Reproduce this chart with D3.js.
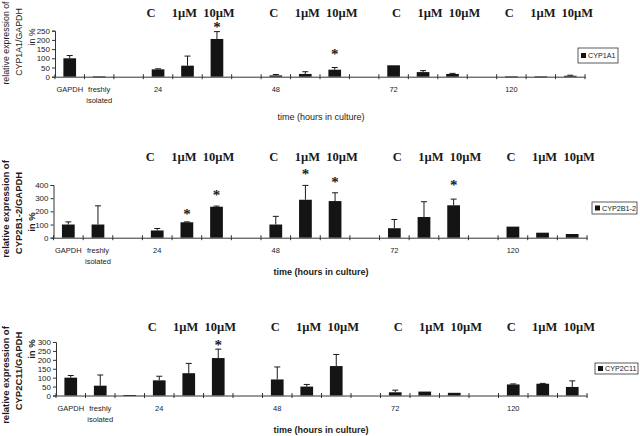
<!DOCTYPE html>
<html><head><meta charset="utf-8">
<script src="https://cdn.jsdelivr.net/npm/d3@7"></script>
<style>
html,body{margin:0;padding:0;background:#fff;}
svg{display:block;}
</style></head>
<body>
<svg id="chart" width="640" height="436"></svg>
<script>
// ---------- data ----------
const slots = ["GAPDH","freshly isolated","sp1","24h C","24h 1µM","24h 10µM","sp2",
  "48h C","48h 1µM","48h 10µM","sp3","72h C","72h 1µM","72h 10µM","sp4",
  "120h C","120h 1µM","120h 10µM"];
const axisLabelSlots = ["GAPDH","freshly isolated","24h C","48h C","72h C","120h C"];
const axisLabels = [["GAPDH"],["freshly","isolated"],["24"],["48"],["72"],["120"]];
const treatmentSlots = ["24h C","24h 1µM","24h 10µM","48h C","48h 1µM","48h 10µM",
  "72h C","72h 1µM","72h 10µM","120h C","120h 1µM","120h 10µM"];
const treatmentLabels = ["C","1µM","10µM","C","1µM","10µM","C","1µM","10µM","C","1µM","10µM"];

// CYP1A1
const cyp1a1Mean = [100,1,0,40,60,205,0,7,15,38,0,62,25,15,0,1,1,5];
const cyp1a1Err  = [15,0,0,3,52,40,0,5,12,12,0,0,8,3,0,0,0,3];
const cyp1a1Sig  = ["24h 10µM","48h 10µM"];
const cyp1a1Ticks = [0,50,100,150,200,250];
// CYP2B1-2
const cyp2b1Mean = [100,100,0,55,117,235,0,100,288,278,0,72,157,246,0,84,38,28];
const cyp2b1Err  = [20,142,0,15,3,5,0,62,109,63,0,66,116,47,0,0,0,0];
const cyp2b1Sig  = ["24h 1µM","24h 10µM","48h 1µM","48h 10µM","72h 10µM"];
const cyp2b1Ticks = [0,100,200,300,400];
// CYP2C11
const cyp2c11Mean = [100,55,2,85,125,210,0,90,50,165,0,18,22,15,0,62,66,48];
const cyp2c11Err  = [12,60,0,23,55,50,0,70,12,65,0,12,0,0,0,3,2,34];
const cyp2c11Sig  = ["24h 10µM"];
const cyp2c11Ticks = [0,50,100,150,200,250,300];

const xTitle = "time (hours in culture)";

// ---------- layout ----------
// label nudges (layout only): by treatment type and by time group
const typeNudge = {"C":-2, "1µM":2, "10µM":7};
const groupNudge = {"24h":-5, "48h":0, "72h":5, "120h":0};

const panels = [
  {name:"CYP1A1", mean:cyp1a1Mean, err:cyp1a1Err, sig:cyp1a1Sig, ticks:cyp1a1Ticks,
   x0:55, x1:585, yb:76.7, yt:30.7, bold:false, treatY:16.8, titleY:120,
   yTitle:[43,42,37], yFont:8.8, starGap:6, starGapOver:{"48h 10µM":15},
   legend:{x:578,y:48,w:40,h:15}},
  {name:"CYP2B1-2", mean:cyp2b1Mean, err:cyp2b1Err, sig:cyp2b1Sig, ticks:cyp2b1Ticks,
   x0:53.5, x1:587, yb:237.7, yt:185, bold:true, treatY:160.5, titleY:274.5,
   yTitle:[209,213,222], yFont:9.5, starGap:13, starGapOver:{"24h 1µM":10,"72h 10µM":16},
   legend:{x:592,y:202,w:45,h:12}},
  {name:"CYP2C11", mean:cyp2c11Mean, err:cyp2c11Err, sig:cyp2c11Sig, ticks:cyp2c11Ticks,
   x0:56, x1:587, yb:395.5, yt:342, bold:true, treatY:331, titleY:433,
   yTitle:[375,371,349], yFont:9.5, starGap:6, starGapOver:{},
   legend:{x:595,y:363,w:43,h:11}}
];

const svg = d3.select("#chart");
const sans = "'Liberation Sans', Arial, sans-serif";
const serif = "'Liberation Serif', 'Times New Roman', serif";
const ink = "#1a1a1a";
const starSize = 15;

panels.forEach(p => {
  const g = svg.append("g");
  const x = d3.scaleBand().domain(slots).range([p.x0, p.x1]).paddingInner(0).paddingOuter(0);
  const max = p.ticks[p.ticks.length-1];
  const y = d3.scaleLinear().domain([0, max]).range([p.yb, p.yt]);
  const bw = x.bandwidth()*0.43;
  const cx = s => x(s)+x.bandwidth()/2;
  const data = slots.map((s,i)=>({slot:s, v:p.mean[i], e:p.err[i]}));

  // bars
  g.selectAll("rect.bar").data(data.filter(d=>d.v>0)).join("rect")
    .attr("x", d=>cx(d.slot)-bw/2)
    .attr("width", bw)
    .attr("y", d=>y(d.v))
    .attr("height", d=>Math.max(0.8, y(0)-y(d.v)))
    .attr("fill", "#141414");

  // error bars
  const eb = data.filter(d=>d.e>0);
  g.selectAll("line.err").data(eb).join("line")
    .attr("x1", d=>cx(d.slot)).attr("x2", d=>cx(d.slot))
    .attr("y1", d=>y(d.v)).attr("y2", d=>y(d.v+d.e))
    .attr("stroke", ink).attr("stroke-width", 1);
  g.selectAll("line.cap").data(eb).join("line")
    .attr("x1", d=>cx(d.slot)-3).attr("x2", d=>cx(d.slot)+3)
    .attr("y1", d=>y(d.v+d.e)).attr("y2", d=>y(d.v+d.e))
    .attr("stroke", ink).attr("stroke-width", 1);

  // significance stars (glyph centre sits starGap px above the error cap)
  g.selectAll("text.star").data(data.filter(d=>p.sig.includes(d.slot))).join("text")
    .attr("x", d=>cx(d.slot))
    .attr("y", d=>y(d.v+d.e) - (p.starGapOver[d.slot] ?? p.starGap) + starSize*0.45)
    .attr("text-anchor","middle")
    .attr("font-family", serif).attr("font-weight","bold").attr("font-size", starSize).attr("fill", ink)
    .text("*");

  // y axis
  const ya = g.append("g").attr("transform", `translate(${p.x0},0)`)
    .call(d3.axisLeft(y).tickValues(p.ticks).tickSize(3).tickPadding(2).tickFormat(d3.format("d")));
  ya.selectAll("text").attr("font-family", sans).attr("font-size", 8).attr("fill", ink);
  ya.selectAll("line,path").attr("stroke", "#333");

  // x axis (category, ticks between categories)
  const xa = g.append("g").attr("transform", `translate(0,${p.yb})`)
    .call(d3.axisBottom(x).tickSize(0).tickFormat(""));
  xa.selectAll("path").attr("stroke", "#333");
  const bounds = slots.map(s=>x(s)).concat([p.x1]);
  g.selectAll("line.xt").data(bounds).join("line")
    .attr("x1", d=>d).attr("x2", d=>d)
    .attr("y1", p.yb-2.5).attr("y2", p.yb+2.5)
    .attr("stroke", "#333").attr("stroke-width", 1);

  // category labels
  axisLabelSlots.forEach((s,i)=>{
    const t = g.append("text")
      .attr("text-anchor","middle")
      .attr("font-family", sans).attr("font-size", 7.5).attr("fill", "#222");
    axisLabels[i].forEach((line,j)=>{
      t.append("tspan").attr("x", cx(s))
        .attr("y", p.yb+15+j*11).text(line);
    });
  });

  // treatment labels above
  g.selectAll("text.treat").data(treatmentSlots).join("text")
    .attr("x", (d,i)=>cx(d) + typeNudge[treatmentLabels[i]] + groupNudge[d.split(" ")[0]])
    .attr("y", p.treatY)
    .attr("text-anchor","middle")
    .attr("font-family", serif).attr("font-weight","bold").attr("font-size", 12.5).attr("fill", ink)
    .text((d,i)=>treatmentLabels[i]);

  // x title
  g.append("text").attr("x", 321).attr("y", p.titleY)
    .attr("text-anchor","middle")
    .attr("font-family", sans).attr("font-size", 9)
    .attr("font-weight", p.bold ? "bold" : "normal").attr("fill", ink)
    .text(xTitle);

  // y title (3 rotated lines)
  const yLines = ["relative expression of", p.name + "/GAPDH", "in %"];
  yLines.forEach((line,j)=>{
    g.append("text")
      .attr("transform", `translate(${8.5+j*13},${p.yTitle[j]}) rotate(-90)`)
      .attr("text-anchor","middle")
      .attr("font-family", sans)
      .attr("font-size", p.yFont)
      .attr("font-weight", p.bold ? "bold" : "normal").attr("fill", ink)
      .text(line);
  });

  // legend
  const L = p.legend;
  const lg = g.append("g").attr("transform", `translate(${L.x},${L.y})`);
  lg.append("rect").attr("width", L.w).attr("height", L.h)
    .attr("fill","#fff").attr("stroke","#333").attr("stroke-width",0.8);
  lg.append("rect").attr("x", 3).attr("y", L.h/2-2.5).attr("width",5).attr("height",5).attr("fill","#141414");
  lg.append("text").attr("x", 10).attr("y", L.h/2+2.6)
    .attr("font-family", sans).attr("font-size", 7.2).attr("fill", ink)
    .text(p.name);
});
</script>
</body></html>
